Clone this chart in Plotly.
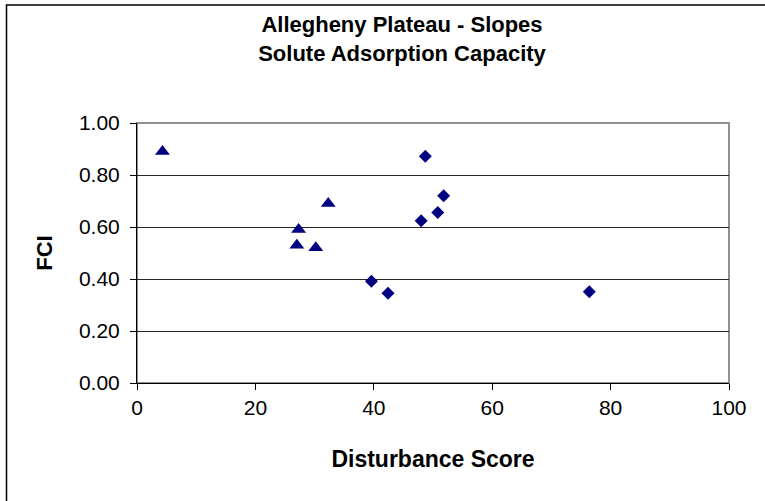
import plotly.graph_objects as go

# Series 1 (triangles)
tri_x = [4.3, 27.3, 27.0, 30.2, 32.3]
tri_y = [0.89, 0.59, 0.53, 0.52, 0.69]
# Series 2 (diamonds)
dia_x = [48.7, 51.8, 50.8, 48.0, 39.6, 42.4, 76.4]
dia_y = [0.872, 0.720, 0.656, 0.624, 0.391, 0.345, 0.351]

x_ticks = [0, 20, 40, 60, 80, 100]
y_ticks = [0.0, 0.2, 0.4, 0.6, 0.8, 1.0]
y_tick_labels = ["0.00", "0.20", "0.40", "0.60", "0.80", "1.00"]

NAVY = "#000080"
FONT = "Liberation Sans, Arial, sans-serif"

fig = go.Figure()
fig.add_trace(go.Scatter(x=tri_x, y=tri_y, mode="markers",
                         marker=dict(symbol="triangle-up", size=13, color=NAVY,
                                     line=dict(width=0)),
                         showlegend=False, hoverinfo="skip"))
fig.add_trace(go.Scatter(x=dia_x, y=dia_y, mode="markers",
                         marker=dict(symbol="diamond", size=10, color=NAVY,
                                     line=dict(width=0)),
                         showlegend=False, hoverinfo="skip"))

L, R, T, B = 137, 36, 123, 118
W, H = 765, 501
pw, ph = W - L - R, H - T - B

fig.update_layout(
    width=W, height=H,
    margin=dict(l=L, r=R, t=T, b=B, pad=0, autoexpand=False),
    paper_bgcolor="white", plot_bgcolor="white",
    font=dict(family=FONT, color="black"),
    title=dict(text="<b>Allegheny Plateau - Slopes<br>Solute Adsorption Capacity</b>",
               x=402 / W, xanchor="center", y=1 - 32 / H, yanchor="top",
               font=dict(size=22, family=FONT, color="black")),
    xaxis=dict(range=[0, 100], tickvals=x_ticks, ticktext=[str(v) for v in x_ticks],
               showgrid=False, zeroline=False, showline=True, linecolor="black",
               linewidth=1, ticks="outside", ticklen=6, tickcolor="black",
               tickfont=dict(size=21, family=FONT, color="black"),
               automargin=False,
               title=dict(text="<b>Disturbance Score</b>",
                          font=dict(size=23, family=FONT, color="black"), standoff=32)),
    yaxis=dict(range=[0, 1], tickvals=y_ticks, ticktext=y_tick_labels,
               showgrid=True, gridcolor="#262626", gridwidth=1,
               zeroline=False, showline=True, linecolor="black", linewidth=1,
               ticks="outside", ticklen=6, tickcolor="black",
               tickfont=dict(size=21, family=FONT, color="black"),
               ticklabelstandoff=6, automargin=False,
               title=dict(text="<b>FCI</b>",
                          font=dict(size=22, family=FONT, color="black"), standoff=20)),
    shapes=[
        # plot-area border (gray top/right)
        dict(type="rect", xref="paper", yref="paper", x0=0, x1=1, y0=0, y1=1,
             line=dict(color="#909090", width=2), layer="below"),
        # outer chart border
        dict(type="rect", xref="paper", yref="paper",
             x0=(6.5 - L) / pw, x1=(780 - L) / pw,
             y0=(H - B - 520) / ph, y1=(H - B - 5) / ph,
             line=dict(color="black", width=1.5), layer="below"),
    ],
)

fig.write_html("out.html", config={"displayModeBar": False},
               post_script="document.body.style.margin='0';")
